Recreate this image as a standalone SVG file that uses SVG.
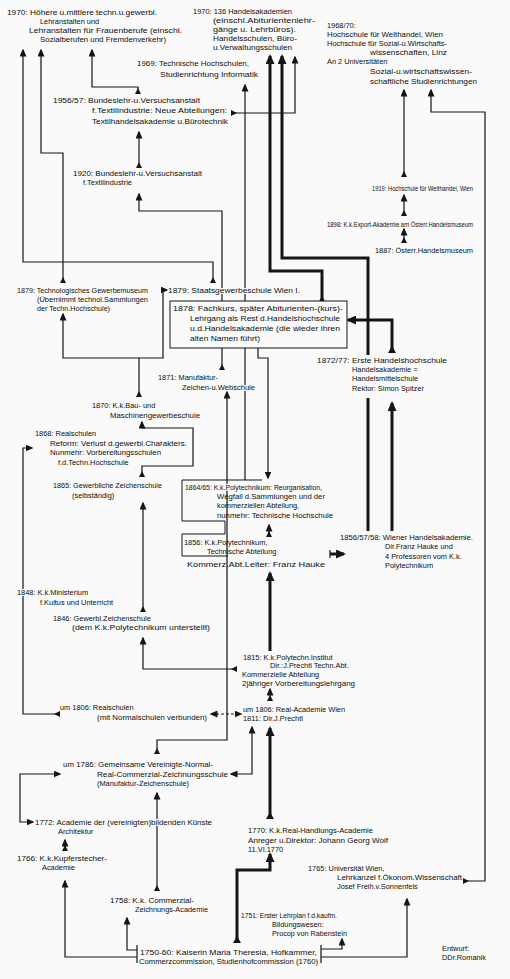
<svg xmlns="http://www.w3.org/2000/svg" width="510" height="979" viewBox="0 0 510 979">
<style>
text{font-family:"Liberation Sans","DejaVu Sans",sans-serif;font-size:7.4px;fill:#0d0d0d}
.h{stroke:#fafafa;stroke-width:2.2px;paint-order:stroke;stroke-linejoin:round}
.l{fill:none;stroke:#151515;stroke-width:1.2}
.t{fill:none;stroke:#151515;stroke-width:3}
.d{stroke-dasharray:3 2}
.box{fill:#fafafa;stroke:#151515;stroke-width:1}
.br{fill:none;stroke:#151515;stroke-width:1}
</style>
<defs>
<marker id="a" markerUnits="userSpaceOnUse" markerWidth="8" markerHeight="7" refX="6.5" refY="3.5" orient="auto-start-reverse"><path d="M0,0L8,3.5L0,7z" fill="#151515"/></marker>
<marker id="f" markerUnits="userSpaceOnUse" markerWidth="6" markerHeight="6" refX="0" refY="3" orient="auto"><path d="M0,0L6,3L0,6z" fill="#151515"/></marker>
<marker id="A" markerUnits="userSpaceOnUse" markerWidth="10" markerHeight="9" refX="8" refY="4.5" orient="auto-start-reverse"><path d="M0,0L10,4.5L0,9z" fill="#151515"/></marker>
<marker id="F" markerUnits="userSpaceOnUse" markerWidth="7" markerHeight="8" refX="0" refY="4" orient="auto"><path d="M0,0L7,4L0,8z" fill="#151515"/></marker>
</defs>
<rect width="510" height="979" fill="#fafafa"/>

<g id="connectors">
<path class="l" d="M213,283V262H23V50" marker-start="url(#f)" marker-end="url(#a)"/>
<path class="l" d="M63,283V153H41V50" marker-start="url(#f)" marker-end="url(#a)"/>
<path class="l" d="M138,94V87H92V50" marker-start="url(#f)" marker-end="url(#a)"/>
<path class="l" d="M139,168V132" marker-start="url(#f)" marker-end="url(#a)"/>
<path class="l" d="M231,113H295V57" marker-start="url(#f)" marker-end="url(#a)"/>
<path class="l" d="M222,370V211H139V194" marker-start="url(#f)" marker-end="url(#a)"/>
<path class="l" d="M245,480V85" marker-end="url(#a)"/>
<path class="l" d="M258,347V358H268V478" marker-end="url(#a)"/>
<path class="l" d="M139,397V358H163V290H167" marker-start="url(#f)" marker-end="url(#a)"/>
<path class="l" d="M139,358H63V314" marker-end="url(#a)"/>
<path class="l" d="M142,477V466H193V428H142V422" marker-start="url(#f)" marker-end="url(#a)"/>
<path class="l" d="M143,612V503" marker-start="url(#f)" marker-end="url(#a)"/>
<path class="l" d="M237,669H143V638" marker-start="url(#f)" marker-end="url(#a)"/>
<path class="l" d="M157,754V740H227V392" marker-start="url(#f)" marker-end="url(#a)"/>
<path class="l" d="M60,714H23V448H32" marker-start="url(#f)" marker-end="url(#a)"/>
<path class="l d" d="M211,714H241" marker-start="url(#a)" marker-end="url(#a)"/>
<path class="l" d="M252,727V774H231" marker-start="url(#a)" marker-end="url(#a)"/>
<path class="l" d="M157,891V793" marker-start="url(#f)" marker-end="url(#a)"/>
<path class="l" d="M33,822H20V774H60" marker-start="url(#a)" marker-end="url(#a)"/>
<path class="l" d="M65,851V840" marker-start="url(#f)" marker-end="url(#a)"/>
<path class="l" d="M137,957H65V881" marker-end="url(#a)"/>
<path class="l" d="M137,950H127V918" marker-end="url(#a)"/>
<path class="l" d="M137,945V963"/>
<path class="l" d="M321,945V963"/>
<path class="l" d="M321,949H342V939" marker-end="url(#a)"/>
<path class="l" d="M321,957H407V899" marker-end="url(#a)"/>
<path class="l" d="M463,881H485V112H431V90" marker-start="url(#f)" marker-end="url(#a)"/>
<path class="l" d="M404,177V90" marker-start="url(#f)" marker-end="url(#a)"/>
<path class="l" d="M404,216V195" marker-start="url(#f)" marker-end="url(#a)"/>
<path class="l" d="M404,243V229" marker-start="url(#f)" marker-end="url(#a)"/>
<path class="l" d="M270,701V689" marker-start="url(#f)" marker-end="url(#a)"/>
<path class="l" d="M269,537V525" marker-start="url(#f)" marker-end="url(#a)"/>
<path class="t" d="M322,303V271H270V56" marker-start="url(#F)" marker-end="url(#A)"/>
<path class="t" d="M368,531V398"/>
<path class="t" d="M368,355V258H282V56" marker-end="url(#A)"/>
<path class="t" d="M392,531V403" marker-end="url(#A)"/>
<path class="t" d="M392,353V320H348" marker-start="url(#F)" marker-end="url(#A)"/>
<path class="t" d="M270,651V573" marker-end="url(#A)"/>
<path class="t" d="M270,819V728" marker-start="url(#F)" marker-end="url(#A)"/>
<path class="t" d="M237,943V870H270V854" marker-start="url(#F)" marker-end="url(#A)"/>
<path class="t" d="M330,554H344" marker-end="url(#A)"/>
<path class="l" d="M330,550V558"/>
</g>

<g id="n1970hoehere">
<text x="7" y="15" textLength="150" lengthAdjust="spacingAndGlyphs">1970: Höhere u.mittlere techn.u.gewerbl.</text>
<text x="40" y="24">Lehranstalten und</text>
<text x="29" y="33" textLength="153" lengthAdjust="spacingAndGlyphs">Lehranstalten für Frauenberufe (einschl.</text>
<text x="40" y="42" textLength="126" lengthAdjust="spacingAndGlyphs">Sozialberufen und Fremdenverkehr)</text>
</g>
<g id="n1970handel">
<text x="193" y="14" textLength="99" lengthAdjust="spacingAndGlyphs">1970: 136 Handelsakademien</text>
<text x="213" y="23" textLength="102" lengthAdjust="spacingAndGlyphs">(einschl.Abiturientenlehr-</text>
<text x="213" y="32" textLength="83" lengthAdjust="spacingAndGlyphs">gänge u. Lehrbüros).</text>
<text x="213" y="41" textLength="84" lengthAdjust="spacingAndGlyphs">Handelsschulen, Büro-</text>
<text x="213" y="50" textLength="79" lengthAdjust="spacingAndGlyphs">u.Verwaltungsschulen</text>
</g>
<g id="n1969">
<text x="137" y="66" textLength="112" lengthAdjust="spacingAndGlyphs">1969: Technische Hochschulen,</text>
<text x="160" y="77" textLength="98" lengthAdjust="spacingAndGlyphs">Studienrichtung Informatik</text>
</g>
<g id="n1968">
<text x="327" y="28">1968/70:</text>
<text x="327" y="37" textLength="116" lengthAdjust="spacingAndGlyphs">Hochschule für Welthandel, Wien</text>
<text x="327" y="46" textLength="120" lengthAdjust="spacingAndGlyphs">Hochschule für Sozial-u.Wirtschafts-</text>
<text x="370" y="55" textLength="77" lengthAdjust="spacingAndGlyphs">wissenschaften, Linz</text>
<text x="327" y="64">An 2 Universitäten</text>
<text x="370" y="74" textLength="102" lengthAdjust="spacingAndGlyphs">Sozial-u.wirtschaftswissen-</text>
<text x="370" y="84" textLength="107" lengthAdjust="spacingAndGlyphs">schaftliche Studienrichtungen</text>
</g>
<g id="n1956">
<text x="53" y="103" textLength="147" lengthAdjust="spacingAndGlyphs">1956/57: Bundeslehr-u.Versuchsanstalt</text>
<text x="92" y="113" textLength="135" lengthAdjust="spacingAndGlyphs">f.Textilindustrie: Neue Abteilungen:</text>
<text x="92" y="124" textLength="136" lengthAdjust="spacingAndGlyphs">Textilhandelsakademie u.Bürotechnik</text>
</g>
<g id="n1920">
<text x="73" y="176" textLength="129" lengthAdjust="spacingAndGlyphs">1920: Bundeslehr-u.Versuchsanstalt</text>
<text x="83" y="185">f.Textilindustrie</text>
</g>
<g id="n1919"><text x="372" y="191" textLength="101" lengthAdjust="spacingAndGlyphs">1919: Hochschule für Welthandel, Wien</text></g>
<g id="n1898"><text x="327" y="227" textLength="146" lengthAdjust="spacingAndGlyphs">1898: K.k.Export-Akademie am Österr.Handelsmuseum</text></g>
<g id="n1887"><text x="375" y="253" textLength="98" lengthAdjust="spacingAndGlyphs">1887: Österr.Handelsmuseum</text></g>
<g id="n1879museum">
<text x="17" y="293" textLength="131" lengthAdjust="spacingAndGlyphs">1879: Technologisches Gewerbemuseum</text>
<text x="37" y="302" textLength="111" lengthAdjust="spacingAndGlyphs">(Übernimmt technol.Sammlungen</text>
<text x="37" y="311" textLength="73" lengthAdjust="spacingAndGlyphs">der Techn.Hochschule)</text>
</g>
<g id="n1879staat"><text class="h" x="168" y="293" textLength="132" lengthAdjust="spacingAndGlyphs">1879: Staatsgewerbeschule Wien I.</text></g>
<g id="n1878">
<rect class="box" x="170" y="301" width="177" height="47"/>
<text x="173" y="311" textLength="170" lengthAdjust="spacingAndGlyphs">1878: Fachkurs, später Abiturienten-(kurs)-</text>
<text x="190" y="321" textLength="150" lengthAdjust="spacingAndGlyphs">Lehrgang als Rest d.Handelshochschule</text>
<text x="190" y="331" textLength="150" lengthAdjust="spacingAndGlyphs">u.d.Handelsakademie (die wieder ihren</text>
<text x="190" y="341" textLength="70" lengthAdjust="spacingAndGlyphs">alten Namen führt)</text>
</g>
<g id="n1872">
<text x="317" y="363" textLength="130" lengthAdjust="spacingAndGlyphs">1872/77: Erste Handelshochschule</text>
<text x="352" y="372">Handelsakademie =</text>
<text x="352" y="381">Handelsmittelschule</text>
<text x="352" y="391">Rektor: Simon Spitzer</text>
</g>
<g id="n1871">
<text x="158" y="380">1871: Manufaktur-</text>
<text class="h" x="182" y="390" textLength="73" lengthAdjust="spacingAndGlyphs">Zeichen-u.Webschule</text>
</g>
<g id="n1870">
<text x="92" y="408">1870: K.k.Bau- und</text>
<text x="110" y="418" textLength="90" lengthAdjust="spacingAndGlyphs">Maschinengewerbeschule</text>
</g>
<g id="n1868">
<text x="35" y="436">1868: Realschulen</text>
<text x="50" y="446" textLength="137" lengthAdjust="spacingAndGlyphs">Reform: Verlust d.gewerbl.Charakters.</text>
<text x="50" y="455" textLength="111" lengthAdjust="spacingAndGlyphs">Nunmehr: Vorbereitungsschulen</text>
<text x="58" y="465">f.d.Techn.Hochschule</text>
</g>
<g id="n1865">
<text x="53" y="488" textLength="109" lengthAdjust="spacingAndGlyphs">1865: Gewerbliche Zeichenschule</text>
<text x="72" y="498">(selbständig)</text>
</g>
<g id="n1864">
<path class="br" d="M262,480H182V521H225V534"/>
<text class="h" x="185" y="490" textLength="137" lengthAdjust="spacingAndGlyphs">1864/65: K.k.Polytechnikum: Reorganisation,</text>
<text x="217" y="499" textLength="108" lengthAdjust="spacingAndGlyphs">Wegfall d.Sammlungen und der</text>
<text x="217" y="508">kommerziellen Abteilung,</text>
<text x="217" y="518" textLength="116" lengthAdjust="spacingAndGlyphs">nunmehr: Technische Hochschule</text>
</g>
<g id="n1856">
<path class="br" d="M225,534H182V556H228"/>
<text x="184" y="545">1856: K.k.Polytechnikum,</text>
<text x="207" y="554">Technische Abteilung</text>
<text x="187" y="567" textLength="138" lengthAdjust="spacingAndGlyphs">Kommerz.Abt.Leiter: Franz Hauke</text>
</g>
<g id="n1856wien">
<text x="340" y="540" textLength="133" lengthAdjust="spacingAndGlyphs">1856/57/58: Wiener Handelsakademie.</text>
<text x="385" y="549">Dir.Franz Hauke und</text>
<text x="385" y="559">4 Professoren vom K.k.</text>
<text x="385" y="568">Polytechnikum</text>
</g>
<g id="n1848">
<text class="h" x="17" y="595">1848: K.k.Ministerium</text>
<text class="h" x="40" y="605">f.Kultus und Unterricht</text>
</g>
<g id="n1846">
<text x="53" y="621">1846: Gewerbl.Zeichenschule</text>
<text x="72" y="630" textLength="138" lengthAdjust="spacingAndGlyphs">(dem K.k.Polytechnikum unterstellt)</text>
</g>
<g id="n1815">
<text x="243" y="660">1815: K.k.Polytechn.Institut</text>
<text x="270" y="668">Dir.:J.Prechtl Techn.Abt.</text>
<text x="242" y="677">Kommerzielle Abteilung</text>
<text x="242" y="686" textLength="113" lengthAdjust="spacingAndGlyphs">2jähriger Vorbereitungslehrgang</text>
</g>
<g id="n1806academie">
<text x="243" y="712" textLength="102" lengthAdjust="spacingAndGlyphs">um 1806: Real-Academie Wien</text>
<text x="243" y="721">1811: Dir.J.Prechtl</text>
</g>
<g id="n1806real">
<text x="60" y="710">um 1806: Realschulen</text>
<text x="97" y="720" textLength="110" lengthAdjust="spacingAndGlyphs">(mit Normalschulen verbunden)</text>
</g>
<g id="n1786">
<text x="63" y="767" textLength="150" lengthAdjust="spacingAndGlyphs">um 1786: Gemeinsame Vereinigte-Normal-</text>
<text x="97" y="777" textLength="131" lengthAdjust="spacingAndGlyphs">Real-Commerzial-Zeichnungsschule</text>
<text x="97" y="786">(Manufaktur-Zeichenschule)</text>
</g>
<g id="n1772">
<text class="h" x="35" y="825" textLength="177" lengthAdjust="spacingAndGlyphs">1772: Academie der (vereinigten)bildenden Künste</text>
<text x="58" y="834">Architektur</text>
</g>
<g id="n1766">
<text x="17" y="861" textLength="90" lengthAdjust="spacingAndGlyphs">1766: K.k.Kupferstecher-</text>
<text x="42" y="870">Academie</text>
</g>
<g id="n1758">
<text x="110" y="903" textLength="84" lengthAdjust="spacingAndGlyphs">1758: K.k. Commerzial-</text>
<text x="135" y="912" textLength="73" lengthAdjust="spacingAndGlyphs">Zeichnungs-Academie</text>
</g>
<g id="n1750">
<text x="140" y="955" textLength="177" lengthAdjust="spacingAndGlyphs">1750-60: Kaiserin Maria Theresia, Hofkammer,</text>
<text x="139" y="964" textLength="179" lengthAdjust="spacingAndGlyphs">Commerzcommission, Studienhofcommission (1760)</text>
</g>
<g id="n1770">
<text x="248" y="833" textLength="125" lengthAdjust="spacingAndGlyphs">1770: K.k.Real-Handlungs-Academie</text>
<text x="248" y="843" textLength="140" lengthAdjust="spacingAndGlyphs">Anreger u.Direktor: Johann Georg Wolf</text>
<text x="248" y="852">11.VI.1770</text>
</g>
<g id="n1751">
<text x="241" y="918" textLength="96" lengthAdjust="spacingAndGlyphs">1751: Erster Lehrplan f.d.kaufm.</text>
<text x="272" y="927">Bildungswesen:</text>
<text x="272" y="936" textLength="75" lengthAdjust="spacingAndGlyphs">Procop von Rabenstein</text>
</g>
<g id="n1765">
<text x="308" y="871">1765: Universität Wien,</text>
<text x="337" y="880" textLength="125" lengthAdjust="spacingAndGlyphs">Lehrkanzel f.Ökonom.Wissenschaft</text>
<text x="337" y="889">Josef Freih.v.Sonnenfels</text>
</g>
<g id="entwurf">
<text x="442" y="951">Entwurf:</text>
<text x="442" y="960">DDr.Romanik</text>
</g>
</svg>
